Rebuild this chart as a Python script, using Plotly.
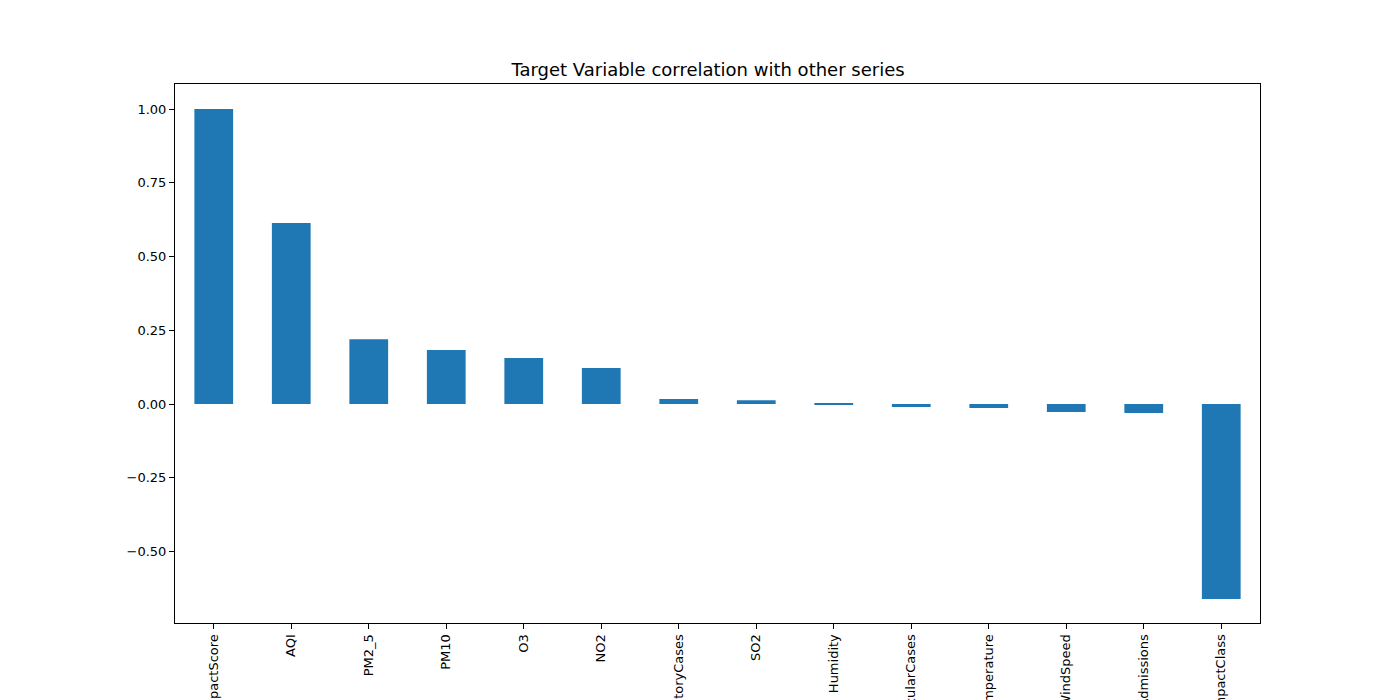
import plotly.graph_objects as go

features = ["HealthImpactScore", "AQI", "PM2_5", "PM10", "O3", "NO2", "RespiratoryCases",
            "SO2", "Humidity", "CardiovascularCases", "Temperature", "WindSpeed",
            "HospitalAdmissions", "HealthImpactClass"]
corr = [1.0, 0.614, 0.22, 0.183, 0.156, 0.122, 0.017, 0.013, 0.001, -0.010, -0.013,
        -0.027, -0.030, -0.661]

fig = go.Figure(go.Bar(x=features, y=corr, marker_color="#1f77b4",
                       marker_line_width=0, width=0.5))

# page is shown with an 8px body offset, so shift margins to compensate
fig.update_layout(
    width=1400, height=700,
    paper_bgcolor="white", plot_bgcolor="white",
    margin=dict(l=167, r=148, t=76, b=85),
    font=dict(family="DejaVu Sans", size=13, color="black"),
    title=dict(text="Target Variable correlation with other series", x=0.5, xanchor="center",
               y=1 - 62 / 700, yanchor="middle", font=dict(size=18)),
    showlegend=False,
)
fig.update_xaxes(range=[-0.5, 13.5], tickangle=-90, automargin=False,
                 showline=True, linecolor="black", mirror=True,
                 ticks="outside", ticklen=5, tickcolor="black", showgrid=False)
fig.update_yaxes(range=[-0.742, 1.085], tickvals=[-0.5, -0.25, 0, 0.25, 0.5, 0.75, 1.0],
                 ticktext=["\u22120.50", "\u22120.25", "0.00", "0.25", "0.50", "0.75", "1.00"],
                 automargin=False, showline=True, linecolor="black", mirror=True,
                 ticks="outside", ticklen=5, tickcolor="black", showgrid=False, zeroline=False)

fig.write_html("out.html")
